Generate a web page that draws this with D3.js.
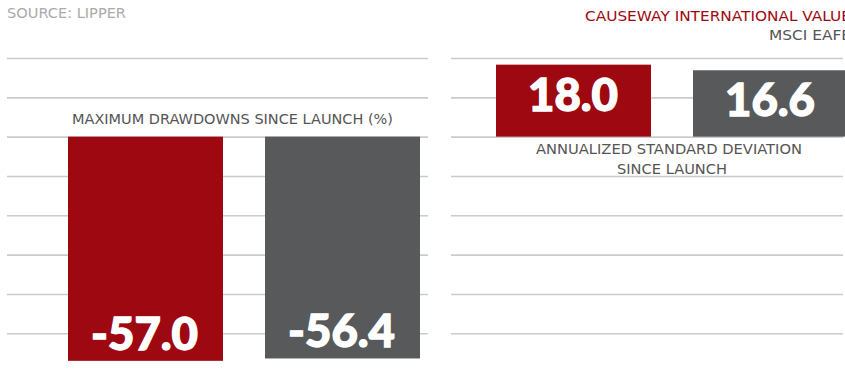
<!DOCTYPE html>
<html>
<head>
<meta charset="utf-8">
<script src="https://cdn.jsdelivr.net/npm/d3@7"></script>
<style>
  html, body { margin: 0; padding: 0; background: #fff; }
  svg { display: block; }
  .lbl { font-family: "DejaVu Sans", sans-serif; font-size: 13.6px; }
  .val { font-family: Lato, "Open Sans", sans-serif; font-weight: 900; fill: #fff; font-size: 45px;
         stroke: #fff; stroke-width: 1.3px; }
</style>
</head>
<body>
<svg id="chart" width="845" height="372"></svg>
<script>
const series = ["CAUSEWAY INTERNATIONAL VALUE", "MSCI EAFE"];
const drawdown = [-57.0, -56.4];
const stdDev = [18.0, 16.6];
const gridTicks = [20, 10, 0, -10, -20, -30, -40, -50];
const colors = ["#9e0810", "#58595b"];

const svg = d3.select("#chart");

// shared vertical scale (gridlines every 10 units)
const y = d3.scaleLinear().domain([-50, 20]).range([333.3, 58]);
// right panel scale (standard deviation)
const yR = d3.scaleLinear().domain([0, 18]).range([y(0), y(0) - 72]);

const xL = d3.scaleBand().domain(series).range([68, 420]).paddingInner(42 / 197).paddingOuter(0);
const xR = d3.scaleBand().domain(series).range([496, 848]).paddingInner(42 / 197).paddingOuter(0);

function grid(x0, x1) {
  const g = svg.append("g").attr("transform", `translate(${x0},0)`)
    .call(d3.axisLeft(y).tickValues(gridTicks).tickSize(-(x1 - x0)).tickFormat(""));
  g.select(".domain").remove();
  g.selectAll(".tick line").attr("stroke", "#cbcbcb").attr("stroke-width", 1.6);
}
grid(7, 428);
grid(451, 843);

// source
svg.append("text").attr("class", "lbl").attr("x", 7).attr("y", 18)
  .attr("fill", "#aaaaaa").attr("textLength", 119).attr("lengthAdjust", "spacingAndGlyphs")
  .text("SOURCE: LIPPER");

// legend labels
svg.append("text").attr("class", "lbl").attr("x", 585).attr("y", 21)
  .attr("fill", colors[0]).attr("textLength", 266).attr("lengthAdjust", "spacingAndGlyphs")
  .text(series[0]);
svg.append("text").attr("class", "lbl").attr("x", 769).attr("y", 40)
  .attr("fill", "#555").attr("textLength", 82).attr("lengthAdjust", "spacingAndGlyphs")
  .text(series[1]);

// left panel title
svg.append("text").attr("class", "lbl").attr("x", 232.5).attr("y", 124)
  .attr("text-anchor", "middle").attr("fill", "#555")
  .attr("textLength", 321).attr("lengthAdjust", "spacingAndGlyphs")
  .text("MAXIMUM DRAWDOWNS SINCE LAUNCH (%)");

// left bars
const dd = series.map((s, i) => ({ s, v: drawdown[i], c: colors[i] }));
svg.append("g").selectAll("rect").data(dd).join("rect")
  .attr("x", d => xL(d.s)).attr("width", xL.bandwidth())
  .attr("y", y(0)).attr("height", d => y(d.v) - y(0))
  .attr("fill", d => d.c);
svg.append("g").selectAll("text").data(dd).join("text")
  .attr("class", "val").attr("text-anchor", "middle")
  .attr("x", d => xL(d.s) + xL.bandwidth() / 2 - 1)
  .attr("y", d => y(d.v) - 11)
  .attr("textLength", 107).attr("lengthAdjust", "spacingAndGlyphs")
  .text(d => d.v.toFixed(1));

// right bars
const sd = series.map((s, i) => ({ s, v: stdDev[i], c: colors[i] }));
svg.append("g").selectAll("rect").data(sd).join("rect")
  .attr("x", d => xR(d.s)).attr("width", xR.bandwidth())
  .attr("y", d => yR(d.v)).attr("height", d => yR(0) - yR(d.v))
  .attr("fill", d => d.c);
svg.append("g").selectAll("text").data(sd).join("text")
  .attr("class", "val").attr("text-anchor", "middle")
  .attr("x", d => xR(d.s) + xR.bandwidth() / 2 - 0.5)
  .attr("y", d => yR(d.v) + 46)
  .attr("textLength", 90).attr("lengthAdjust", "spacingAndGlyphs")
  .text(d => d.v.toFixed(1));

// right panel title
svg.append("text").attr("class", "lbl").attr("x", 669).attr("y", 154)
  .attr("text-anchor", "middle").attr("fill", "#555")
  .attr("textLength", 266).attr("lengthAdjust", "spacingAndGlyphs")
  .text("ANNUALIZED STANDARD DEVIATION");
svg.append("text").attr("class", "lbl").attr("x", 672).attr("y", 173.5)
  .attr("text-anchor", "middle").attr("fill", "#555")
  .attr("textLength", 110).attr("lengthAdjust", "spacingAndGlyphs")
  .text("SINCE LAUNCH");
</script>
</body>
</html>
